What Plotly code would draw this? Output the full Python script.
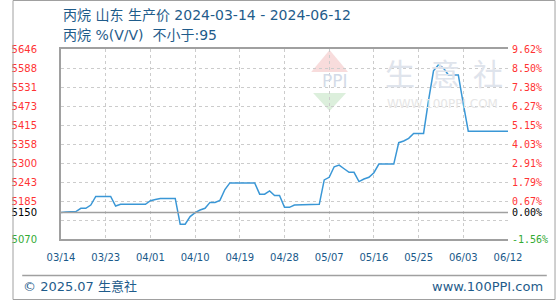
import plotly.graph_objects as go

# ---- data ----
dates = ["2024-03-14","2024-03-15","2024-03-17","2024-03-18","2024-03-19","2024-03-20","2024-03-21",
         "2024-03-24","2024-03-25","2024-03-26","2024-03-31","2024-04-01","2024-04-02","2024-04-03",
         "2024-04-06","2024-04-07","2024-04-08","2024-04-09","2024-04-10","2024-04-11","2024-04-12",
         "2024-04-13","2024-04-14","2024-04-15","2024-04-16","2024-04-17","2024-04-22","2024-04-23",
         "2024-04-24","2024-04-25","2024-04-26","2024-04-27","2024-04-28","2024-04-29","2024-04-30",
         "2024-05-05","2024-05-06","2024-05-07","2024-05-08","2024-05-09","2024-05-10","2024-05-11",
         "2024-05-12","2024-05-13","2024-05-14","2024-05-15","2024-05-16","2024-05-17","2024-05-20",
         "2024-05-21","2024-05-22","2024-05-23","2024-05-24","2024-05-26","2024-05-27","2024-05-28",
         "2024-05-29","2024-05-30","2024-05-31","2024-06-02","2024-06-03","2024-06-04","2024-06-12"]
prices = [5150,5152,5153,5163,5163,5173,5199,
          5199,5170,5175,5175,5186,5190,5193,
          5193,5115,5115,5138,5150,5158,5163,
          5181,5181,5187,5220,5240,5240,5206,
          5206,5216,5202,5202,5166,5166,5173,
          5175,5249,5257,5289,5294,5283,5272,
          5272,5244,5252,5257,5271,5297,5297,
          5362,5367,5375,5390,5390,5490,5580,
          5598,5588,5567,5567,5480,5397,5397]

y_ticks = [5070, 5127.6, 5150, 5185.2, 5242.8, 5300.4, 5358, 5415.6, 5473.2, 5530.8, 5588.4, 5646]
y_left_labels = ["5070", "", "5150", "5185", "5243", "5300", "5358", "5415", "5473", "5531", "5588", "5646"]
y_right_labels = ["-1.56%", "", "0.00%", "0.67%", "1.79%", "2.91%", "4.03%", "5.15%", "6.27%", "7.38%", "8.50%", "9.62%"]
base_price = 5150

x_ticks = ["2024-03-14","2024-03-23","2024-04-01","2024-04-10","2024-04-19","2024-04-28",
           "2024-05-07","2024-05-16","2024-05-25","2024-06-03","2024-06-12"]
x_labels = ["03/14","03/23","04/01","04/10","04/19","04/28","05/07","05/16","05/25","06/03","06/12"]

title1 = "丙烷 山东 生产价 2024-03-14 - 2024-06-12"
title2 = "丙烷 %(V/V)  不小于:95"
footer_left = "© 2025.07 生意社"
footer_right = "www.100PPI.com"

# ---- layout helpers ----
W, H = 560, 300
L, R, T, B = 50, 511, 49, 239
def px(x): return (x - L) / (R - L)
def py(y): return (B - y) / (B - T)

RED, GREEN, BLACK = "#ff3333", "#33aa33", "#000000"
def color_for(v):
    if abs(v - base_price) < 1e-6: return BLACK
    return RED if v > base_price else GREEN

left_text = [f'<span style="color:{color_for(v)}">{t}</span>' if t else "" for v, t in zip(y_ticks, y_left_labels)]
right_text = [f'<span style="color:{color_for(v)}">{t}</span>' if t else "" for v, t in zip(y_ticks, y_right_labels)]

BLUE_TXT = "#1f5c8b"
fig = go.Figure()
fig.add_trace(go.Scatter(x=dates, y=prices, mode="lines",
                         line=dict(color="#3a97d6", width=1.5), hoverinfo="skip", showlegend=False))
fig.add_trace(go.Scatter(x=dates, y=prices, mode="lines", yaxis="y2",
                         line=dict(color="rgba(0,0,0,0)", width=0), hoverinfo="skip", showlegend=False))

grid = dict(showgrid=True, gridcolor="#cccccc", gridwidth=1, griddash="3px,3px")
fig.update_layout(
    width=W, height=H,
    margin=dict(l=L, r=W - R, t=T, b=H - B, pad=0),
    paper_bgcolor="white", plot_bgcolor="white",
    xaxis=dict(type="date", range=["2024-03-14", "2024-06-12"], tickvals=x_ticks, ticktext=x_labels,
               tickfont=dict(family="DejaVu Sans", size=10, color="#1a5a8a"),
               showline=True, linecolor="#a0a0a0", linewidth=2, mirror=True,
               ticks="", ticklabelstandoff=8, zeroline=False, **grid),
    yaxis=dict(range=[5070, 5646], tickvals=y_ticks, ticktext=left_text,
               tickfont=dict(family="DejaVu Sans", size=10),
               showline=True, linecolor="#a0a0a0", linewidth=2,
               ticks="", ticklabelstandoff=20, zeroline=False, **grid),
    yaxis2=dict(range=[5070, 5646], overlaying="y", side="right", anchor="x",
                tickvals=y_ticks, ticktext=right_text,
                tickfont=dict(family="DejaVu Sans Mono", size=10),
                showgrid=False, showline=False, ticks="", ticklabelstandoff=3, zeroline=False),
)

shapes = []
# base line at base price
shapes.append(dict(type="line", xref="paper", yref="y", x0=0, x1=1, y0=base_price, y1=base_price,
                   line=dict(color="#a0a0a0", width=1.5), layer="above"))
# watermark logo
shapes.append(dict(type="path", xref="paper", yref="paper", layer="below",
                   path=f"M {px(308)},{py(72)} L {px(327)},{py(50)} L {px(346)},{py(72)} Z",
                   fillcolor="#f8dcdc", line=dict(width=0)))
shapes.append(dict(type="path", xref="paper", yref="paper", layer="below",
                   path=f"M {px(310)},{py(93)} L {px(327)},{py(111)} L {px(344)},{py(93)} Z",
                   fillcolor="#dcefdc", line=dict(width=0)))
# footer separator and outer frame
shapes.append(dict(type="line", xref="paper", yref="paper", x0=px(10), x1=px(551), y0=py(275.5), y1=py(275.5),
                   line=dict(color="#a0a0a0", width=1.5)))
shapes.append(dict(type="rect", xref="paper", yref="paper", x0=px(0.5), x1=px(559.5), y0=py(0.5), y1=py(299.5),
                   line=dict(color="#a0a0a0", width=1), fillcolor="rgba(0,0,0,0)"))
fig.update_layout(shapes=shapes)

ann = []
ann.append(dict(text=title1, x=px(50), y=py(15), xref="paper", yref="paper", xanchor="left", yanchor="middle",
                showarrow=False, font=dict(family="DejaVu Sans, Noto Sans CJK SC", size=14, color=BLUE_TXT)))
ann.append(dict(text=title2, x=px(50), y=py(35), xref="paper", yref="paper", xanchor="left", yanchor="middle",
                showarrow=False, font=dict(family="DejaVu Sans, Noto Sans CJK SC", size=14, color=BLUE_TXT)))
ann.append(dict(text=footer_left, x=px(9), y=py(286), xref="paper", yref="paper", xanchor="left", yanchor="middle",
                showarrow=False, font=dict(family="DejaVu Sans, Noto Sans CJK SC", size=13, color=BLUE_TXT)))
ann.append(dict(text=footer_right, x=px(549), y=py(286), xref="paper", yref="paper", xanchor="right", yanchor="middle",
                showarrow=False, font=dict(family="DejaVu Sans", size=13, color=BLUE_TXT)))
# watermark text
ann.append(dict(text="PPI", x=px(333), y=py(81), xref="paper", yref="paper", xanchor="center", yanchor="middle",
                showarrow=False, font=dict(family="DejaVu Sans", size=17, color="#d3dbe8")))
for ch, cx in zip(["生", "意", "社"], [400, 446, 490]):
    ann.append(dict(text=ch, x=px(cx), y=py(72), xref="paper", yref="paper", xanchor="center", yanchor="middle",
                    showarrow=False, font=dict(family="Noto Sans CJK SC", size=30, color="#dfe4ec")))
ann.append(dict(text="WWW.100PPI.COM", x=px(443), y=py(104), xref="paper", yref="paper", xanchor="center",
                yanchor="middle", showarrow=False, font=dict(family="DejaVu Sans", size=12, color="#e6e6e6")))
fig.update_layout(annotations=ann)

fig.write_html("out.html")
